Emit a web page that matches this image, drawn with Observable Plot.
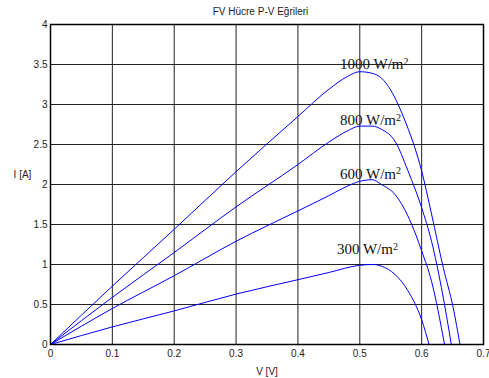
<!DOCTYPE html>
<html>
<head>
<meta charset="utf-8">
<script src="https://cdn.jsdelivr.net/npm/d3@7"></script>
<script src="https://cdn.jsdelivr.net/npm/@observablehq/plot@0.6"></script>
<style>
  body { margin: 0; background: #fff; }
  #title { width: 489px; height: 20px; padding-top: 3px; box-sizing: border-box; text-align: center;
           font: 10px "Liberation Sans", Arial, sans-serif; color: #222; padding-left: 32px; line-height: 17px; }
</style>
</head>
<body>
<div id="title">FV Hücre P-V Eğrileri</div>
<div id="chart"></div>
<script>
const titleText = "FV Hücre P-V Eğrileri";
const xLabel = "V [V]";
const yLabel = "I [A]";
const xTicks = [0, 0.1, 0.2, 0.3, 0.4, 0.5, 0.6, 0.7];
const yTicks = [0, 0.5, 1, 1.5, 2, 2.5, 3, 3.5, 4];

const series = ["1000 W/m²", "800 W/m²", "600 W/m²", "300 W/m²"];
const v1000 = [0, 0.1, 0.2, 0.3, 0.4, 0.45, 0.48, 0.5, 0.52, 0.535, 0.55, 0.562, 0.575, 0.589, 0.6, 0.616, 0.635, 0.651, 0.662];
const i1000 = [0, 0.73, 1.44, 2.16, 2.85, 3.19, 3.35, 3.41, 3.39, 3.33, 3.18, 3.0, 2.76, 2.46, 2.17, 1.63, 0.96, 0.46, 0];
const v800 = [0, 0.1, 0.2, 0.3, 0.4, 0.45, 0.48, 0.5, 0.52, 0.535, 0.557, 0.578, 0.6, 0.616, 0.632, 0.648];
const i800 = [0, 0.59, 1.15, 1.72, 2.25, 2.53, 2.67, 2.73, 2.73, 2.69, 2.54, 2.17, 1.71, 1.29, 0.71, 0];
const v600 = [0, 0.1, 0.2, 0.3, 0.4, 0.45, 0.48, 0.5, 0.52, 0.535, 0.557, 0.584, 0.6, 0.616, 0.637];
const i600 = [0, 0.45, 0.86, 1.29, 1.67, 1.86, 1.98, 2.04, 2.06, 2.0, 1.875, 1.5, 1.17, 0.79, 0];
const v300 = [0, 0.1, 0.2, 0.3, 0.4, 0.45, 0.5, 0.52, 0.535, 0.557, 0.578, 0.6, 0.612];
const i300 = [0, 0.22, 0.42, 0.63, 0.81, 0.9, 0.99, 1.0, 0.98, 0.875, 0.67, 0.31, 0];

// label anchor positions (data coordinates)
const labelV = [0.468, 0.468, 0.468, 0.463];
const labelI = [3.50, 2.80, 2.13, 1.19];

const vs = [v1000, v800, v600, v300];
const is = [i1000, i800, i600, i300];
const data = [];
series.forEach((s, k) => vs[k].forEach((v, j) => data.push({series: s, v, i: is[k][j]})));
const labels = series.map((s, k) => ({series: s, v: labelV[k], i: labelI[k]}));

const font = '"Liberation Sans", Arial, sans-serif';
const fmt = d => String(d);

const chart = Plot.plot({
  width: 489,
  height: 358,
  marginLeft: 50,
  marginRight: 6,
  marginTop: 4,
  marginBottom: 34,
  style: {fontFamily: font, fontSize: "10px", color: "#222", background: "#fff"},
  x: {domain: [0, 0.7]},
  y: {domain: [0, 4]},
  marks: [
    Plot.gridX(xTicks, {stroke: "#222", strokeOpacity: 1, strokeWidth: 1}),
    Plot.gridY(yTicks, {stroke: "#222", strokeOpacity: 1, strokeWidth: 1}),
    Plot.line(data, {x: "v", y: "i", z: "series", stroke: "#0000ff", strokeWidth: 1, curve: "monotone-x"}),
    Plot.text(labels, {x: "v", y: "i", text: "series", textAnchor: "start", fontFamily: '"Liberation Serif", "Times New Roman", serif', fontSize: 15, fill: "#111"}),
    Plot.frame({stroke: "#000", strokeWidth: 1.5}),
    Plot.axisX(xTicks, {tickSize: 0, tickPadding: 5, tickFormat: fmt, label: xLabel, labelAnchor: "center", labelArrow: "none", labelOffset: 30, fontSize: 10}),
    Plot.axisY(yTicks, {tickSize: 0, tickPadding: 3, tickFormat: fmt, label: null, fontSize: 10}),
    Plot.text([yLabel], {frameAnchor: "left", dx: -28, dy: -10, textAnchor: "middle", fontSize: 10, fill: "#222"})
  ]
});
// render the "²" as a real superscript tspan
chart.querySelectorAll("text").forEach(t => {
  const s = t.textContent;
  if (t.children.length === 0 && s.endsWith("²")) {
    t.textContent = s.slice(0, -1);
    const ts = document.createElementNS("http://www.w3.org/2000/svg", "tspan");
    ts.setAttribute("dy", "-0.45em");
    ts.setAttribute("font-size", "10");
    ts.textContent = "2";
    t.appendChild(ts);
  }
});
document.getElementById("chart").appendChild(chart);
</script>
</body>
</html>
